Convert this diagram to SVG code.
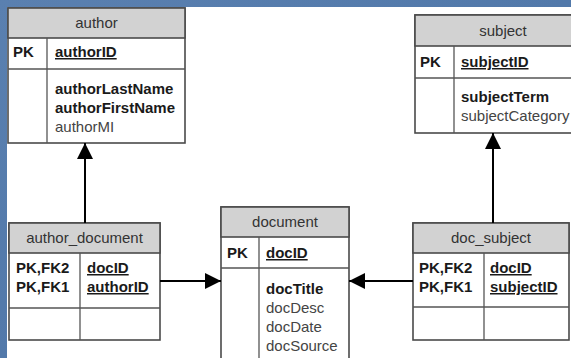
<svg xmlns="http://www.w3.org/2000/svg" width="571" height="358" viewBox="0 0 571 358">
<defs>
<linearGradient id="bg" x1="0" y1="0" x2="1" y2="1">
<stop offset="0" stop-color="#5a80b0"/>
<stop offset="1" stop-color="#4a72a4"/>
</linearGradient>
<marker id="ah" viewBox="0 0 16 16" refX="16" refY="8" markerWidth="16" markerHeight="16" markerUnits="userSpaceOnUse" orient="auto">
<path d="M0,0 L16,8 L0,16 Z" fill="#000"/>
</marker>
<style>
.box{fill:#fff;stroke:#4a4a4a;stroke-width:1.6}
.hdr{fill:#d2d2d2;stroke:#4a4a4a;stroke-width:1.6}
.div{stroke:#555;stroke-width:1.3;fill:none}
text{font-family:"Liberation Sans",Arial,sans-serif;font-size:15px}
.h{fill:#333;text-anchor:middle}
.b{font-weight:bold;fill:#1a1a1a}
.r{fill:#444}
.u{text-decoration:underline}
.con{stroke:#000;stroke-width:2;fill:none}
</style>
</defs>
<rect x="0" y="0" width="571" height="358" fill="url(#bg)"/>
<rect x="7" y="7" width="564" height="351" fill="#fff"/>

<g id="author">
<rect class="box" x="8" y="8" width="177" height="135"/>
<rect class="hdr" x="8" y="8" width="177" height="30"/>
<line class="div" x1="8" y1="69" x2="185" y2="69"/>
<line class="div" x1="47" y1="38" x2="47" y2="143"/>
<text class="h" x="96.5" y="28">author</text>
<text class="b" x="13" y="57">PK</text>
<text class="b u" x="55" y="57">authorID</text>
<text class="b" x="55" y="94">authorLastName</text>
<text class="b" x="55" y="113">authorFirstName</text>
<text class="r" x="55" y="132">authorMI</text>
</g>

<g id="subject">
<rect class="box" x="415" y="15" width="176" height="118"/>
<rect class="hdr" x="415" y="15" width="176" height="31"/>
<line class="div" x1="415" y1="78" x2="591" y2="78"/>
<line class="div" x1="454" y1="46" x2="454" y2="133"/>
<text class="h" x="503" y="36">subject</text>
<text class="b" x="420" y="67">PK</text>
<text class="b u" x="461" y="67">subjectID</text>
<text class="b" x="461" y="102">subjectTerm</text>
<text class="r" x="461" y="121">subjectCategory</text>
</g>

<g id="author_document">
<rect class="box" x="9" y="223" width="151" height="117"/>
<rect class="hdr" x="9" y="223" width="151" height="30"/>
<line class="div" x1="9" y1="308" x2="160" y2="308"/>
<line class="div" x1="80" y1="253" x2="80" y2="340"/>
<text class="h" x="84.5" y="243">author_document</text>
<text class="b" x="16" y="273">PK,FK2</text>
<text class="b" x="16" y="292">PK,FK1</text>
<text class="b u" x="87" y="273">docID</text>
<text class="b u" x="87" y="292">authorID</text>
</g>

<g id="document">
<rect class="box" x="221" y="207" width="128" height="165"/>
<rect class="hdr" x="221" y="207" width="128" height="30"/>
<line class="div" x1="221" y1="268" x2="349" y2="268"/>
<line class="div" x1="259" y1="237" x2="259" y2="372"/>
<text class="h" x="285" y="227">document</text>
<text class="b" x="227" y="258">PK</text>
<text class="b u" x="266" y="258">docID</text>
<text class="b" x="266" y="294">docTitle</text>
<text class="r" x="266" y="313">docDesc</text>
<text class="r" x="266" y="332">docDate</text>
<text class="r" x="266" y="351">docSource</text>
</g>

<g id="doc_subject">
<rect class="box" x="413" y="223" width="156" height="117"/>
<rect class="hdr" x="413" y="223" width="156" height="30"/>
<line class="div" x1="413" y1="307" x2="569" y2="307"/>
<line class="div" x1="484" y1="253" x2="484" y2="340"/>
<text class="h" x="491" y="243">doc_subject</text>
<text class="b" x="419" y="273">PK,FK2</text>
<text class="b" x="419" y="292">PK,FK1</text>
<text class="b u" x="490" y="273">docID</text>
<text class="b u" x="490" y="292">subjectID</text>
</g>

<g id="connectors">
<line class="con" x1="85" y1="223" x2="85" y2="143" marker-end="url(#ah)"/>
<line class="con" x1="160" y1="281" x2="221" y2="281" marker-end="url(#ah)"/>
<line class="con" x1="413" y1="281" x2="349" y2="281" marker-end="url(#ah)"/>
<line class="con" x1="493" y1="223" x2="493" y2="133" marker-end="url(#ah)"/>
</g>
</svg>
